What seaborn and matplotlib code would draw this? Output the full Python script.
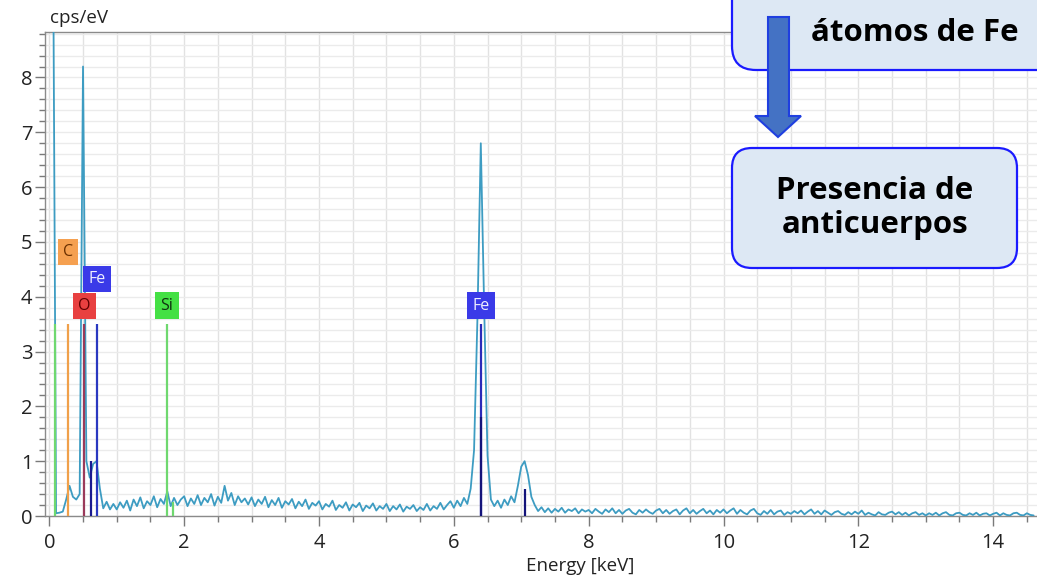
import numpy as np
import matplotlib
matplotlib.use("Agg")
import matplotlib.pyplot as plt
import seaborn as sns
from matplotlib.patches import FancyBboxPatch, Polygon
from matplotlib.ticker import MultipleLocator

# ---------------- data ----------------
energy_step_kev = 0.05
counts = [
    # 0.00 - 0.95
    12.0, 12.0, 0.05, 0.06, 0.08, 0.30, 0.55, 0.35, 0.30, 0.40,
    8.20, 1.00, 0.70, 0.95, 1.00, 0.50, 0.14, 0.26, 0.12, 0.22,
    # 1.00 - 1.95
    0.12, 0.25, 0.15, 0.28, 0.10, 0.30, 0.18, 0.34, 0.14, 0.27,
    0.20, 0.36, 0.16, 0.31, 0.22, 0.45, 0.18, 0.33, 0.20, 0.30,
    # 2.00 - 2.95
    0.36, 0.18, 0.32, 0.22, 0.38, 0.20, 0.33, 0.25, 0.40, 0.19,
    0.35, 0.24, 0.55, 0.28, 0.42, 0.20, 0.36, 0.25, 0.32, 0.21,
    # 3.00 - 3.95
    0.34, 0.18, 0.30, 0.22, 0.35, 0.16, 0.29, 0.20, 0.33, 0.15,
    0.27, 0.21, 0.31, 0.14, 0.26, 0.18, 0.30, 0.13, 0.24, 0.19,
    # 4.00 - 4.95
    0.27, 0.12, 0.22, 0.17, 0.28, 0.11, 0.20, 0.15, 0.25, 0.10,
    0.21, 0.16, 0.24, 0.09, 0.19, 0.14, 0.23, 0.10, 0.18, 0.13,
    # 5.00 - 5.95
    0.22, 0.09, 0.18, 0.12, 0.21, 0.08, 0.17, 0.13, 0.20, 0.09,
    0.16, 0.11, 0.22, 0.10, 0.18, 0.13, 0.24, 0.12, 0.20, 0.27,
    # 6.00 - 6.95
    0.15, 0.28, 0.18, 0.33, 0.22, 0.50, 1.20, 3.60, 6.80, 3.80,
    1.10, 0.30, 0.18, 0.28, 0.15, 0.30, 0.20, 0.36, 0.25, 0.55,
    # 7.00 - 7.95
    0.90, 1.00, 0.75, 0.35, 0.20, 0.09, 0.16, 0.07, 0.14, 0.06,
    0.13, 0.08, 0.15, 0.06, 0.12, 0.09, 0.14, 0.05, 0.12, 0.08,
    # 8.00 - 8.95
    0.11, 0.05, 0.13, 0.08, 0.04, 0.12, 0.07, 0.14, 0.05, 0.11,
    0.04, 0.10, 0.13, 0.06, 0.03, 0.11, 0.06, 0.12, 0.07, 0.04,
    # 9.00 - 9.95
    0.10, 0.13, 0.05, 0.11, 0.04, 0.09, 0.12, 0.03, 0.10, 0.14,
    0.05, 0.11, 0.04, 0.09, 0.13, 0.05, 0.10, 0.03, 0.11, 0.06,
    # 10.00 - 10.95
    0.12, 0.05, 0.10, 0.14, 0.04, 0.11, 0.06, 0.03, 0.10, 0.13,
    0.05, 0.02, 0.09, 0.04, 0.11, 0.03, 0.08, 0.10, 0.02, 0.07,
    # 11.00 - 11.95
    0.04, 0.09, 0.05, 0.10, 0.03, 0.08, 0.12, 0.04, 0.09, 0.03,
    0.10, 0.06, 0.02, 0.07, 0.09, 0.04, 0.02, 0.07, 0.03, 0.08,
    # 12.00 - 12.95
    0.04, 0.10, 0.02, 0.06, 0.03, 0.01, 0.07, 0.03, 0.02, 0.06,
    0.08, 0.03, 0.07, 0.02, 0.06, 0.01, 0.05, 0.07, 0.02, 0.05,
    # 13.00 - 13.95
    0.01, 0.05, 0.02, 0.06, 0.01, 0.05, 0.07, 0.02, 0.01, 0.05,
    0.06, 0.02, 0.01, 0.05, 0.02, 0.06, 0.01, 0.04, 0.05, 0.01,
    # 14.00 - 14.60
    0.04, 0.06, 0.01, 0.05, 0.02, 0.01, 0.05, 0.06, 0.02, 0.01,
    0.05, 0.02, 0.01,
]
energy = np.round(np.arange(len(counts)) * energy_step_kev, 2)

# element marker lines
marker_energy = [0.085, 0.28, 0.515, 0.71, 1.745, 6.40]
marker_height = [3.5, 3.5, 3.5, 3.5, 3.5, 3.5]
marker_colors = ["#6fd86f", "#f0a04a", "#9a3a5a", "#2a38c0", "#6fd86f", "#2a2ab8"]

minor_marker_energy = [0.615, 1.84, 6.40, 7.06]
minor_marker_height = [1.0, 0.25, 1.8, 0.5]
minor_marker_colors = ["#1a1a90", "#6fd86f", "#14147a", "#14147a"]

# element labels
label_text = ["C", "Fe", "O", "Si", "Fe"]
label_energy = [0.28, 0.71, 0.52, 1.745, 6.40]
label_level = [4.82, 4.33, 3.83, 3.84, 3.84]
label_face = ["#f5a050", "#3a3ae8", "#e84040", "#44e044", "#3a3ae8"]
label_color = ["#6b3000", "#eeeeff", "#600000", "#103010", "#eeeeff"]

x_major_ticks = [0, 2, 4, 6, 8, 10, 12, 14]
y_major_ticks = [0, 1, 2, 3, 4, 5, 6, 7, 8]

# ---------------- figure ----------------
sns.set_theme(style="white")
plt.rcParams["font.family"] = ["Open Sans", "DejaVu Sans"]

fig = plt.figure(figsize=(10.37, 5.82), dpi=100)
ax = fig.add_axes([45 / 1037, 66 / 582, 992 / 1037, 484 / 582])

sns.lineplot(x=energy, y=counts, ax=ax, color="#3d9cc2", lw=1.3,
             estimator=None, sort=False, zorder=3)

ax.vlines(marker_energy, 0, marker_height, colors=marker_colors, lw=1.6, zorder=4)
ax.vlines(minor_marker_energy, 0, minor_marker_height, colors=minor_marker_colors,
          lw=1.6, zorder=5)

for t, xe, yl, fc, tc in zip(label_text, label_energy, label_level, label_face, label_color):
    ax.text(xe, yl, t, ha="center", va="center", fontsize=11.5,
            color=tc, zorder=6,
            bbox=dict(boxstyle="square,pad=0.32", fc=fc, ec="none"))

ax.set_xlim(-0.064, 14.65)
ax.set_ylim(0, 8.83)
ax.set_xticks(x_major_ticks)
ax.set_yticks(y_major_ticks)
ax.xaxis.set_minor_locator(MultipleLocator(0.5))
ax.yaxis.set_minor_locator(MultipleLocator(0.2))
ax.grid(which="both", axis="x", color="#e2e2e2", lw=1.0, zorder=0)
ax.grid(which="both", axis="y", color="#ebebeb", lw=1.0, zorder=0)
ax.set_axisbelow(True)
ax.tick_params(axis="both", which="major", direction="out", length=7, width=1,
               color="#7a7a7a", labelsize=14.5, labelcolor="#222222",
               bottom=True, left=True)
ax.tick_params(axis="x", which="major", pad=5)
ax.tick_params(axis="y", which="major", pad=2)
ax.tick_params(axis="both", which="minor", direction="out", length=4, width=1,
               color="#7a7a7a", bottom=True, left=True)
for side in ["left", "bottom", "top"]:
    ax.spines[side].set_color("#8a8a8a")
    ax.spines[side].set_linewidth(1.0)
ax.spines["right"].set_visible(False)
ax.set_xlabel("")
ax.set_ylabel("")

fig.text(50 / 1037, 1 - 18 / 582, "cps/eV", ha="left", va="center", fontsize=13.5,
         color="#222222")
fig.text(580 / 1037, 1 - 566 / 582, "Energy [keV]", ha="center", va="center",
         fontsize=13.5, color="#222222")

# ---------------- annotation overlay (pixel coordinates) ----------------
ov = fig.add_axes([0, 0, 1, 1], facecolor="none")
ov.set_xlim(0, 1037)
ov.set_ylim(582, 0)
ov.axis("off")

ov.add_patch(FancyBboxPatch((732, -60), 330, 130,
                            boxstyle="round,pad=0,rounding_size=24",
                            fc="#dde8f4", ec="#1a1aff", lw=1.6, zorder=2))
ov.add_patch(FancyBboxPatch((732, 148), 285, 120,
                            boxstyle="round,pad=0,rounding_size=20",
                            fc="#dde8f4", ec="#1a1aff", lw=1.6, zorder=2))
ov.add_patch(Polygon([(768, 17), (789, 17), (789, 116), (801, 116), (778, 137),
                      (755, 116), (768, 116)], closed=True,
                     fc="#4472c4", ec="#1f3fe0", lw=1.5, zorder=3))

ov.text(915, 33, "átomos de Fe", ha="center", va="center", fontsize=22.5,
        fontweight="bold", family=["Open Sans", "DejaVu Sans"], color="black", zorder=4)
ov.text(875, 208, "Presencia de\nanticuerpos", ha="center", va="center",
        fontsize=22.5, fontweight="bold", family=["Open Sans", "DejaVu Sans"],
        color="black", linespacing=1.2, zorder=4)

fig.savefig("out.png", dpi=100)
